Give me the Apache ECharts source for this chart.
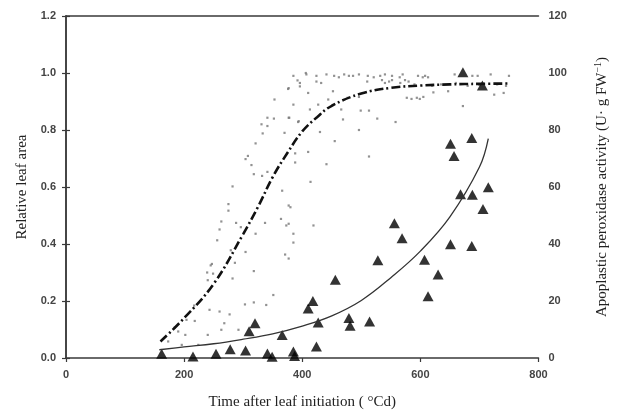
<!DOCTYPE html>
<html>
<head>
<meta charset="utf-8">
<script src="https://cdn.jsdelivr.net/npm/echarts@6/dist/echarts.min.js"></script>
<style>html,body{margin:0;padding:0;background:#fff}#c{width:618px;height:415px}</style>
</head>
<body>
<div id="c"></div>
<script>
// Tick settings
var xTicks = [0, 200, 400, 600, 800];
var leftTicks = [0.0, 0.2, 0.4, 0.6, 0.8, 1.0, 1.2];
var rightTicks = [0, 20, 40, 60, 80, 100, 120];

// Relative leaf area: individual measurements (x: °Cd, y: relative area)
var leafDots = [
[173,0.058],[184,0.107],[190,0.093],[196,0.046],[202,0.081],[204,0.134],[217,0.184],[218,0.13],[224,0.046],[239,0.3],[240,0.273],[240,0.081],[243,0.169],[245,0.325],[247,0.33],[249,0.296],[256,0.413],[260,0.451],[260,0.163],[263,0.479],[263,0.099],[268,0.122],[275,0.54],[275,0.517],[277,0.153],[279,0.378],[282,0.602],[282,0.279],[286,0.334],[288,0.474],[292,0.099],[296,0.459],[303,0.188],[304,0.372],[304,0.698],[308,0.709],[314,0.677],[318,0.645],[318,0.305],[318,0.195],[321,0.753],[321,0.436],[331,0.82],[333,0.788],[332,0.639],[337,0.474],[339,0.186],[341,0.843],[341,0.814],[341,0.653],[351,0.221],[352,0.84],[353,0.907],[364,0.488],[366,0.587],[370,0.79],[371,0.363],[373,0.465],[376,0.944],[377,0.535],[377,0.947],[377,0.843],[377,0.471],[377,0.349],[378,0.843],[380,0.529],[385,0.99],[385,0.889],[385,0.436],[385,0.405],[388,0.718],[388,0.686],[392,0.974],[393,0.828],[394,0.831],[396,0.953],[406,1.0],[410,0.93],[410,0.723],[413,0.872],[414,0.618],[419,0.465],[427,0.889],[430,0.793],[441,0.68],[444,0.907],[452,0.936],[455,0.761],[466,0.872],[469,0.837],[477,0.913],[496,0.916],[496,0.8],[499,0.868],[513,0.868],[513,0.707],[527,0.84],[558,0.828],[577,0.913],[585,0.909],[594,0.913],[599,0.909],[605,0.916],[622,0.932],[647,0.936],[672,0.884],[725,0.924],[741,0.93],
[407,0.995],[424,0.99],[441,0.995],[454,0.99],[462,0.985],[471,0.995],[479,0.99],[486,0.99],[496,0.995],[511,0.99],[521,0.985],[532,0.99],[540,0.995],[552,0.99],[565,0.985],[570,0.995],[596,0.99],[604,0.985],[608,0.99],[613,0.985],[658,0.995],[688,0.99],[697,0.99],[719,0.995],[750,0.99],
[396,0.965],[424,0.97],[432,0.965],[510,0.97],[535,0.975],[540,0.965],[547,0.97],[552,0.975],[566,0.965],[574,0.975],[580,0.97],[590,0.96],[620,0.955],[635,0.96],[660,0.965],[680,0.955],[700,0.958],[730,0.96],[745,0.955]
];

// Fitted curve for relative leaf area (dash-dot)
var leafFit = [
[160,0.058],[200,0.14],[250,0.26],[300,0.435],[325,0.53],[350,0.635],[375,0.72],[400,0.795],[425,0.845],[450,0.885],[500,0.928],[550,0.948],[600,0.956],[650,0.96],[700,0.962],[750,0.963]
];

// Apoplastic peroxidase activity (U g FW-1), triangles
var peroxidase = [
[162,1.5],[215,0.5],[254,1.5],[278,3.1],[304,2.6],[310,9.4],[320,12.2],[341,1.6],[349,0.4],[366,8.1],[385,2.3],[387,0.7],[410,17.4],[418,20],[424,4],[427,12.5],[456,27.5],[479,14],[481,11.3],[514,12.8],[528,34.3],[556,47.3],[569,42],[607,34.5],[613,21.7],[630,29.3],[651,39.9],[651,75.2],[657,70.9],[668,57.5],[672,100.3],[687,77.2],[687,39.3],[688,57.3],[705,95.6],[706,52.3],[715,59.9]
];

// Fitted curve for peroxidase activity (solid)
var peroxFit = [
[158,2.9],[200,3.9],[250,5.0],[300,6.6],[350,8.5],[400,11.2],[450,14.8],[500,20.2],[550,28.2],[600,37.5],[650,49.5],[700,67],[715,77]
];

var chart = echarts.init(document.getElementById('c'), null, {renderer:'canvas'});
var axisColor = '#3a3a3a';
var tickFont = {fontFamily:'Liberation Sans, Arial, sans-serif', fontSize:11, color:'#444', fontWeight:'bold'};
var titleFont = {fontFamily:'Liberation Serif, Times New Roman, serif', fontSize:15, color:'#222'};

chart.setOption({
  animation:false,
  backgroundColor:'#fff',
  grid:{left:66, right:73, top:16, bottom:55, containLabel:false},
  xAxis:[{
    type:'value', min:xTicks[0], max:xTicks[xTicks.length-1], interval:200,
    name:'Time after leaf initiation ( °Cd)', nameLocation:'middle', nameGap:37,
    nameTextStyle:titleFont,
    axisLine:{show:true, lineStyle:{color:axisColor, width:1.5}},
    axisTick:{show:true, length:4, lineStyle:{color:axisColor, width:1.2}},
    axisLabel:Object.assign({margin:11}, tickFont),
    splitLine:{show:false}
  },{
    type:'value', position:'top', min:0, max:800,
    axisLine:{show:true, onZero:false, lineStyle:{color:axisColor, width:1.5}},
    axisTick:{show:false}, axisLabel:{show:false}, splitLine:{show:false}
  }],
  yAxis:[{
    type:'value', min:leftTicks[0], max:leftTicks[leftTicks.length-1], interval:0.2,
    name:'Relative leaf area', nameLocation:'middle', nameGap:36, nameRotate:90,
    nameTextStyle:titleFont,
    axisLine:{show:true, lineStyle:{color:axisColor, width:1.5}},
    axisTick:{show:true, length:4, lineStyle:{color:axisColor, width:1.2}},
    axisLabel:Object.assign({margin:10, formatter:function(v){return v.toFixed(1);}}, tickFont),
    splitLine:{show:false}
  },{
    type:'value', position:'right', min:rightTicks[0], max:rightTicks[rightTicks.length-1], interval:20,
    name:'{a|Apoplastic peroxidase activity (U· g FW}{s|−1}{a|)}', nameLocation:'middle', nameGap:55, nameRotate:90,
    nameTextStyle:{rich:{
      a:{fontFamily:'Liberation Serif, Times New Roman, serif', fontSize:15, color:'#222'},
      s:{fontFamily:'Liberation Serif, Times New Roman, serif', fontSize:10, color:'#222', verticalAlign:'top', padding:[0,0,8,0]}
    }},
    axisLine:{show:true, lineStyle:{color:axisColor, width:1.5}},
    axisTick:{show:true, length:4, lineStyle:{color:axisColor, width:1.2}},
    axisLabel:Object.assign({margin:10}, tickFont),
    splitLine:{show:false}
  }],
  series:[{
    type:'scatter', xAxisIndex:0, yAxisIndex:0, data:leafDots,
    symbol:'rect', symbolSize:2.2, itemStyle:{color:'#777'}, silent:true
  },{
    type:'line', xAxisIndex:0, yAxisIndex:0, data:leafFit, smooth:0.4, showSymbol:false,
    lineStyle:{color:'#111', width:2.6, type:[9,3,2,3]}, silent:true
  },{
    type:'line', xAxisIndex:0, yAxisIndex:1, data:peroxFit, smooth:0.4, showSymbol:false,
    lineStyle:{color:'#333', width:1.3}, silent:true
  },{
    type:'scatter', xAxisIndex:0, yAxisIndex:1, data:peroxidase,
    symbol:'triangle', symbolSize:[11,10], itemStyle:{color:'#000'}, silent:true
  }]
});
</script>
</body>
</html>
